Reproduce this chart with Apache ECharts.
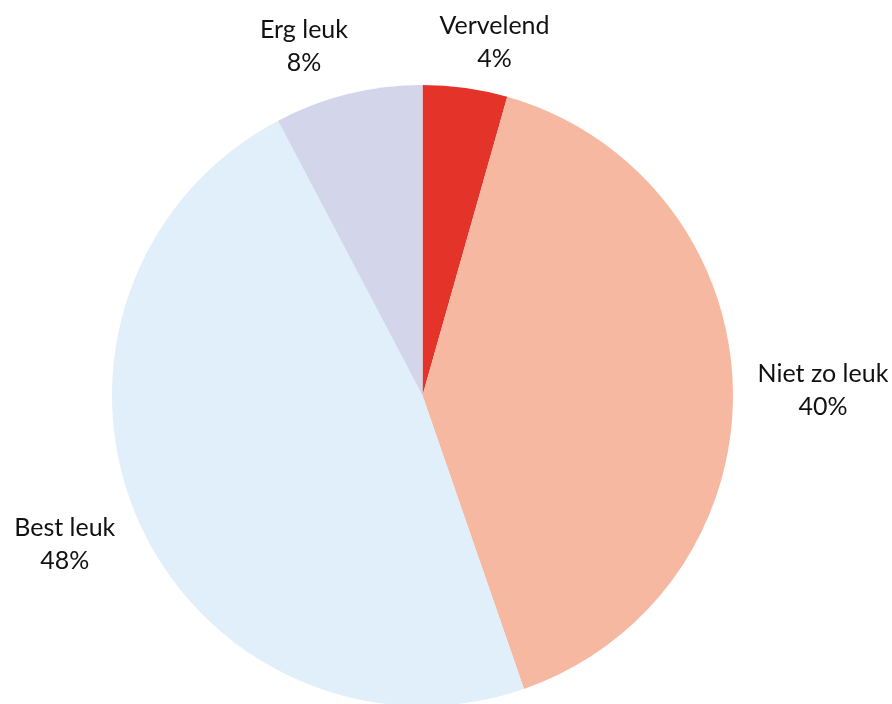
<!DOCTYPE html>
<html>
<head>
<meta charset="utf-8">
<script src="https://cdn.jsdelivr.net/npm/echarts@6/dist/echarts.min.js"></script>
<style>
html,body{margin:0;padding:0;background:#fff;}
#chart{width:892px;height:704px;}
</style>
</head>
<body>
<div id="chart"></div>
<script>
var categories = ['Vervelend', 'Niet zo leuk', 'Best leuk', 'Erg leuk'];
var values = [4.4, 40.3, 47.6, 7.7];
var colors = ['#E4342A', '#F6B8A1', '#E0EFFA', '#D3D6EB'];

// label placement styling (distance beyond rim in px, angular nudge in degrees)
var labelGap = [50, 90, 77, 58];
var labelTurn = [3.6, 0.9, 0.8, -4.9];

var chart = echarts.init(document.getElementById('chart'), null, {renderer: 'canvas'});

var option = {
  backgroundColor: '#ffffff',
  animation: false,
  series: [{
    type: 'pie',
    center: [422.5, 395.5],
    radius: [0, 310.5],
    startAngle: 90,
    clockwise: true,
    percentPrecision: 0,
    avoidLabelOverlap: false,
    data: categories.map(function (c, i) {
      return {name: c, value: values[i], itemStyle: {color: colors[i]}};
    }),
    itemStyle: {borderWidth: 0},
    emphasis: {disabled: true},
    label: {
      show: true,
      position: 'outside',
      formatter: '{b}\n{d}%',
      fontFamily: 'Lato',
      fontSize: 25,
      lineHeight: 33,
      color: '#111111',
      align: 'center'
    },
    labelLine: {
      show: true,
      length: 20,
      length2: 0,
      lineStyle: {opacity: 0, width: 0}
    },
    labelLayout: function (p) {
      var pts = p.labelLinePoints;
      if (!pts || pts.length < 2) return {};
      var dx = pts[1][0] - pts[0][0], dy = pts[1][1] - pts[0][1];
      var len = Math.sqrt(dx * dx + dy * dy) || 1;
      var ux = dx / len, uy = dy / len;
      var R = 310.5;
      var cx = pts[0][0] - ux * R, cy = pts[0][1] - uy * R;
      var ang = Math.atan2(uy, ux) + labelTurn[p.dataIndex] * Math.PI / 180;
      var d = R + labelGap[p.dataIndex];
      return {
        x: cx + Math.cos(ang) * d,
        y: cy + Math.sin(ang) * d,
        align: 'center',
        verticalAlign: 'middle'
      };
    }
  }]
};
chart.setOption(option);
</script>
</body>
</html>
